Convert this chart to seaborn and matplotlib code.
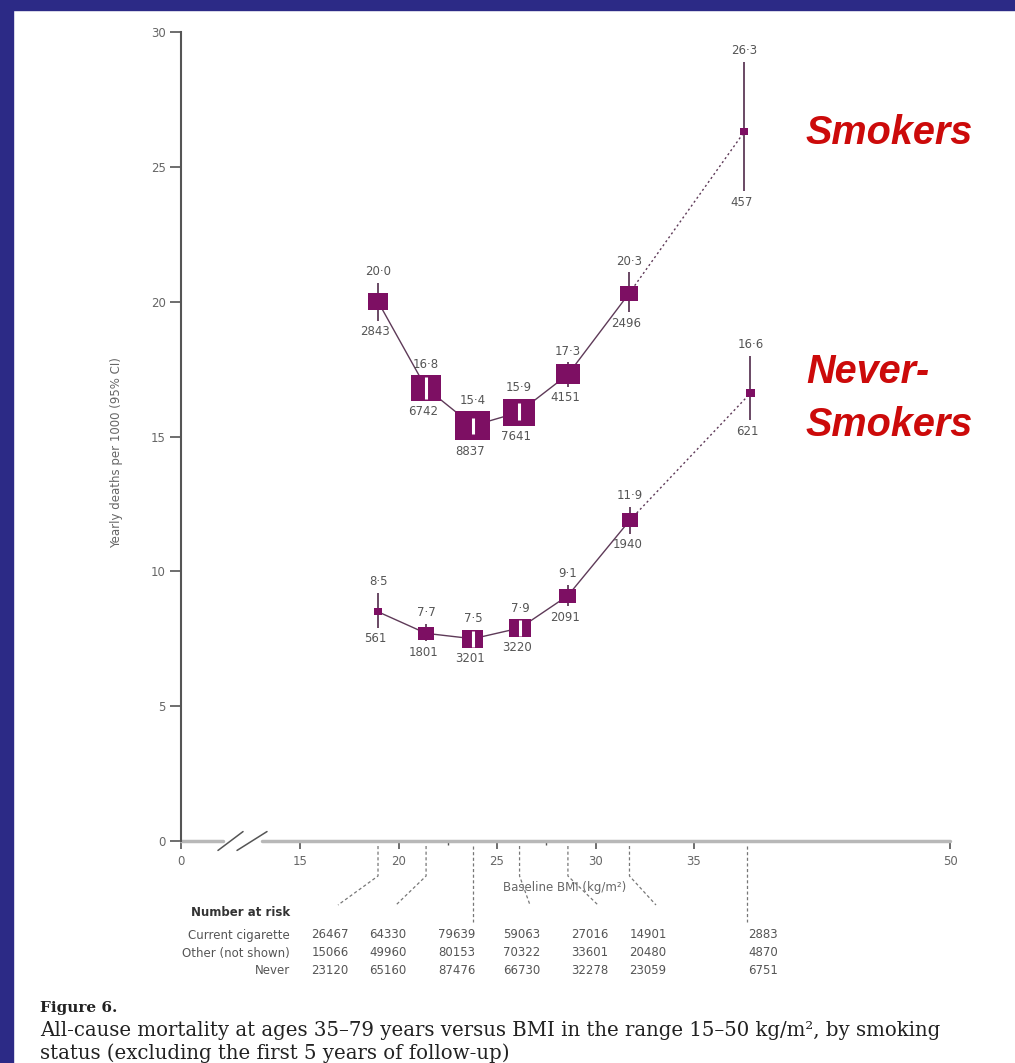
import numpy as np
import pandas as pd
import matplotlib
matplotlib.use("Agg")
import matplotlib.pyplot as plt
import matplotlib.path as mpath
from matplotlib.lines import Line2D
from matplotlib.patches import Rectangle
import seaborn as sns

# ---- data -------------------------------------------------------------
bmi_smokers = [18.96, 21.40, 23.78, 26.12, 28.60, 31.70, 37.95]
rate_smokers = [20.0, 16.8, 15.4, 15.9, 17.3, 20.3, 26.3]
lo_smokers = [19.3, 16.4, 15.1, 15.6, 16.85, 19.6, 24.1]
hi_smokers = [20.7, 17.2, 15.7, 16.25, 17.75, 21.1, 28.9]
deaths_smokers = [2843, 6742, 8837, 7641, 4151, 2496, 457]

bmi_never = [18.96, 21.40, 23.78, 26.17, 28.60, 31.75, 38.30]
rate_never = [8.5, 7.7, 7.5, 7.9, 9.1, 11.9, 16.6]
lo_never = [7.9, 7.4, 7.2, 7.6, 8.7, 11.4, 15.6]
hi_never = [9.2, 8.05, 7.8, 8.2, 9.5, 12.4, 18.0]
deaths_never = [561, 1801, 3201, 3220, 2091, 1940, 621]

risk_rows = ["Current cigarette", "Other (not shown)", "Never"]
risk_current = [26467, 64330, 79639, 59063, 27016, 14901, 2883]
risk_other = [15066, 49960, 80153, 70322, 33601, 20480, 4870]
risk_never = [23120, 65160, 87476, 66730, 32278, 23059, 6751]

x_ticks = [0, 15, 20, 25, 30, 35, 50]
y_ticks = [0, 5, 10, 15, 20, 25, 30]

# ---- figure -----------------------------------------------------------
W, H = 1015, 1063
sns.set_style("white")
plt.rcParams["font.family"] = ["DejaVu Sans"]
fig = plt.figure(figsize=(W / 100, H / 100), dpi=100)
fig.patch.set_facecolor("white")


def fx(px):
    return px / W


def fy(py):
    return 1 - py / H


# dark blue frame on top and left
fig.patches.append(Rectangle((0, fy(10)), 1, 10 / H, transform=fig.transFigure,
                             color="#2c2a86", zorder=0))
fig.patches.append(Rectangle((0, 0), fx(13), 1, transform=fig.transFigure,
                             color="#2c2a86", zorder=0))

ax = fig.add_axes([fx(181), fy(841), 769 / W, 809 / H])
ax.set_facecolor("none")

# broken BMI axis: compressed 0-15, then linear
kb = np.array([-100, 0, 15, 35, 50, 200], dtype=float)
kp = np.array([-793, 0, 119, 513, 769, 769 + 150 * 17.07])


def fwd(x):
    return np.interp(x, kb, kp)


def inv(p):
    return np.interp(p, kp, kb)


ax.set_xscale("function", functions=(fwd, inv))
ax.set_xlim(0, 50)
ax.set_ylim(0, 30)

PX_PER_Y = 809 / 30
MARK = "#7d0f63"
LINE = "#5e3a58"
K_AREA = 0.0718
box = mpath.Path([(-1.2, -1), (1.2, -1), (1.2, 1), (-1.2, 1), (-1.2, -1)], closed=True)


def draw_group(bmi, rate, lo, hi, deaths):
    df = pd.DataFrame({"bmi": bmi, "rate": rate, "deaths": deaths})
    sns.lineplot(data=df.iloc[:6], x="bmi", y="rate", color=LINE, lw=1.0,
                 ax=ax, zorder=2, errorbar=None)
    sns.lineplot(data=df.iloc[5:], x="bmi", y="rate", color=LINE, lw=1.0,
                 linestyle=(0, (1.5, 2.0)), ax=ax, zorder=2, errorbar=None)
    sizes = {d: K_AREA * d for d in deaths}
    # half-height of each box in data units
    hh = [np.sqrt(K_AREA * d) / 1.2 * (100 / 72) / 2 / PX_PER_Y for d in deaths]
    for x, y, l, h, half in zip(bmi, rate, lo, hi, hh):
        if l >= y - half and h <= y + half:
            ax.vlines(x, l, h, color="white", lw=2.2, zorder=4)
        else:
            ax.vlines(x, l, h, color=LINE, lw=1.3, zorder=2.5)
    sns.scatterplot(data=df, x="bmi", y="rate", size="deaths", sizes=sizes,
                    marker=box, color=MARK, linewidth=0, legend=False,
                    ax=ax, zorder=3)
    for x, y, l, h, half, d in zip(bmi, rate, lo, hi, hh, deaths):
        up = (max(h - y, half) * PX_PER_Y + 11) * 0.72
        dn = (max(y - l, half) * PX_PER_Y + 11) * 0.72
        ax.annotate(f"{y:.1f}".replace(".", "\u00b7"), (x, y), xytext=(0, up),
                    textcoords="offset points", ha="center", va="center",
                    fontsize=8.5, color="#555555")
        ax.annotate(f"{d}", (x, y), xytext=(-2, -dn), textcoords="offset points",
                    ha="center", va="center", fontsize=8.5, color="#555555")


draw_group(bmi_smokers, rate_smokers, lo_smokers, hi_smokers, deaths_smokers)
draw_group(bmi_never, rate_never, lo_never, hi_never, deaths_never)
ax.set_xlabel("")
ax.set_ylabel("")

# axes styling
for s in ["top", "right", "bottom"]:
    ax.spines[s].set_visible(False)
ax.spines["left"].set_color("#555555")
ax.spines["left"].set_linewidth(1.5)
ax.set_yticks(y_ticks)
ax.set_yticklabels([str(t) for t in y_ticks])
ax.set_xticks(x_ticks)
ax.set_xticklabels([str(t) for t in x_ticks])
ax.set_xticks([22.5, 27.5], minor=True)
ax.tick_params(axis="y", direction="out", length=8, width=1.2, color="#555555",
               labelcolor="#666666", labelsize=8.5, pad=3, left=True)
ax.tick_params(axis="x", which="major", direction="out", length=6, width=1.2,
               color="#555555", labelcolor="#666666", labelsize=8.5, pad=4,
               bottom=True)
ax.tick_params(axis="x", which="minor", direction="out", length=3, width=1.0,
               color="#555555", bottom=True)

# x axis line with break marks
ax.plot([0, 5.3], [0, 0], color="#b8b8b8", lw=2.5, clip_on=False, zorder=1)
ax.plot([10.2, 50], [0, 0], color="#b8b8b8", lw=2.5, clip_on=False, zorder=1)
ax.plot([4.66, 7.82], [-0.35, 0.35], color="#555555", lw=1.1, clip_on=False)
ax.plot([7.06, 10.84], [-0.35, 0.35], color="#555555", lw=1.1, clip_on=False)

fig.text(fx(117), fy(453), "Yearly deaths per 1000 (95% CI)", rotation=90,
         ha="center", va="center", fontsize=8.5, color="#666666")
fig.text(fx(565), fy(888), "Baseline BMI (kg/m\u00b2)", ha="center", va="center",
         fontsize=8.5, color="#666666")

# group labels
lab_kw = dict(fontsize=28.5, fontweight="bold", fontstyle="italic",
              color="#cc0a0a", family=["Liberation Sans", "DejaVu Sans"],
              ha="left", va="center")
fig.text(fx(806), fy(133), "Smokers", **lab_kw)
fig.text(fx(806), fy(372), "Never-", **lab_kw)
fig.text(fx(806), fy(425), "Smokers", **lab_kw)

# number-at-risk table with leader lines to the BMI groups
fig.canvas.draw()
col_x = [330, 388, 457, 522, 590, 648, 763]
leader_straight = [False, False, True, False, False, False, True]
to_px = ax.transData.transform
for i in range(7):
    xb = (bmi_smokers[i] + bmi_never[i]) / 2
    px = to_px((xb, 0))[0]
    if leader_straight[i]:
        pts_x, pts_y = [px, px], [846, 922]
    else:
        pts_x, pts_y = [px, px, col_x[i] + 8], [846, 876, 905]
    fig.add_artist(Line2D([fx(p) for p in pts_x], [fy(p) for p in pts_y],
                          transform=fig.transFigure, color="#777777", lw=0.9,
                          linestyle=(0, (2.5, 2.0))))

fig.text(fx(290), fy(913), "Number at risk", ha="right", va="center",
         fontsize=8.5, color="#333333", fontweight="bold")
for r, (name, vals) in enumerate(zip(risk_rows, [risk_current, risk_other, risk_never])):
    yy = 935 + r * 18
    fig.text(fx(290), fy(yy), name, ha="right", va="center", fontsize=8.5,
             color="#555555")
    for cx, v in zip(col_x, vals):
        fig.text(fx(cx), fy(yy), f"{v}", ha="center", va="center", fontsize=8.5,
                 color="#555555")

# caption
cap_kw = dict(family=["DejaVu Serif"], color="#222222", ha="left")
fig.text(fx(40), fy(1008), "Figure 6.", fontsize=11, fontweight="bold",
         va="center", **cap_kw)
fig.text(fx(40), fy(1030),
         "All-cause mortality at ages 35\u201379 years versus BMI in the range "
         "15\u201350 kg/m\u00b2, by smoking", fontsize=14.2, va="center", **cap_kw)
fig.text(fx(40), fy(1059), "status (excluding the first 5 years of follow-up)",
         fontsize=14.2, va="baseline", **cap_kw)

fig.savefig("out.png", dpi=100, facecolor="white")
